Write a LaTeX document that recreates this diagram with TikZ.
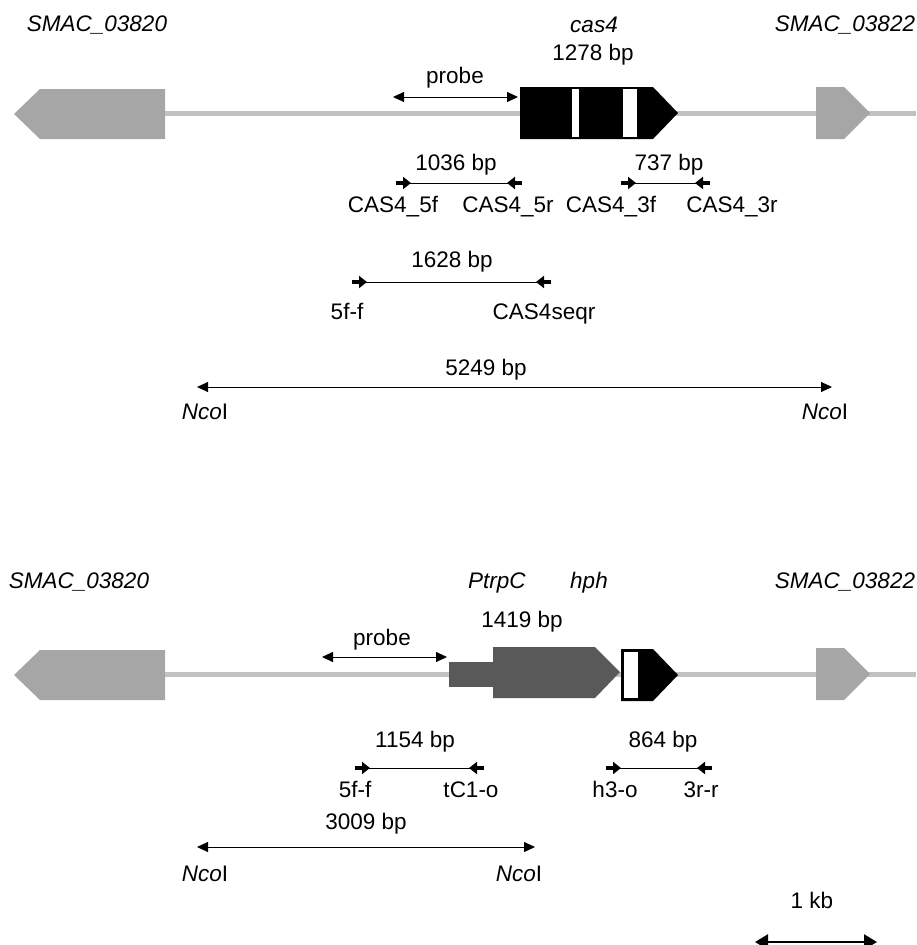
\documentclass[tikz,border=0pt]{standalone}
\usepackage{fontspec}
\setmainfont{Liberation Sans}
\usetikzlibrary{arrows.meta}
\definecolor{GeneGray}{RGB}{166,166,166}
\definecolor{LineGray}{RGB}{194,194,194}
\definecolor{HphGray}{RGB}{89,89,89}
\tikzset{
  txt/.style={font=\fontsize{22.5}{27}\selectfont,inner sep=0pt,anchor=base},
  gene/.style={fill=GeneGray},
  backbone/.style={draw=LineGray,line width=5pt},
  span/.style={draw=black,line width=0.9pt,
    {Triangle[length=11pt,width=10pt]}-{Triangle[length=11pt,width=10pt]}},
  amp/.style={draw=black,line width=0.9pt},
  primer/.style={draw=black,line width=4.5pt,-{Triangle[length=8pt,width=12pt]}},
  kbbar/.style={draw=black,line width=2.6pt,
    {Triangle[length=13pt,width=15pt]}-{Triangle[length=13pt,width=15pt]}},
}

\begin{document}
\begin{tikzpicture}[x=1pt,y=-1pt]
  \useasboundingbox (0,0) rectangle (916,945);

  % wild type locus
  \coordinate (bbA1) at (165,113.5);
  \coordinate (bbA2) at (916,113.5);
  \draw[backbone] (bbA1)--(bbA2);
  \fill[gene] (14,114)--(40,89)--(165,89)--(165,139)--(40,139)--cycle;
  \fill[gene] (816,87)--(844,87)--(870,113)--(844,139)--(816,139)--cycle;
  \fill[black] (520,87)--(653,87)--(678,113)--(653,139)--(520,139)--cycle;
  \fill[white] (572,89) rectangle (579,137);
  \fill[white] (623,89) rectangle (637,137);

  \node[txt] (smacA) at (97,31) {\textit{SMAC\_03820}};
  \node[txt] (casA) at (594,32) {\textit{cas4}};
  \node[txt] (lenA) at (593,60) {1278 bp};
  \node[txt] (smacB) at (845,31) {\textit{SMAC\_03822}};

  \coordinate (pL) at (393,97);
  \coordinate (pR) at (518,97);
  \draw[span] (pL)--(pR);
  \node[txt] (probeA) at (455,83) {probe};

  \coordinate (c5f) at (396,183);
  \coordinate (c5r) at (522,183);
  \coordinate (c3f) at (621,183);
  \coordinate (c3r) at (710,183);
  \draw[amp] (c5f)--(c5r);
  \draw[amp] (c3f)--(c3r);
  \draw[primer] (c5f)--++(15,0);
  \draw[primer] (c5r)--++(-15,0);
  \draw[primer] (c3f)--++(15,0);
  \draw[primer] (c3r)--++(-15,0);
  \node[txt] (l1036) at (456,170) {1036 bp};
  \node[txt] (l737) at (669,170) {737 bp};
  \node[txt] (n5f) at (393,212) {CAS4\_5f};
  \node[txt] (n5r) at (508,212) {CAS4\_5r};
  \node[txt] (n3f) at (611,212) {CAS4\_3f};
  \node[txt] (n3r) at (732,212) {CAS4\_3r};

  \coordinate (s5f) at (352,282);
  \coordinate (sseq) at (551,282);
  \draw[amp] (s5f)--(sseq);
  \draw[primer] (s5f)--++(15,0);
  \draw[primer] (sseq)--++(-15,0);
  \node[txt] (l1628) at (452,267) {1628 bp};
  \node[txt] (ns5f) at (347,319) {5f-f};
  \node[txt] (nseq) at (544,319) {CAS4seqr};

  \coordinate (ncoA1) at (197,387);
  \coordinate (ncoA2) at (832,387);
  \draw[span] (ncoA1)--(ncoA2);
  \node[txt] (l5249) at (486,375) {5249 bp};
  \node[txt] (ncA1) at (205,419) {\textit{Nco}I};
  \node[txt] (ncA2) at (825,419) {\textit{Nco}I};

  % deletion locus
  \coordinate (bbB1) at (165,674);
  \coordinate (bbB2) at (916,674);
  \draw[backbone] (bbB1)--(bbB2);
  \fill[gene] (14,675)--(40,650)--(165,650)--(165,700)--(40,700)--cycle;
  \fill[gene] (816,648)--(844,648)--(870,674)--(844,700)--(816,700)--cycle;
  \fill[HphGray] (449,662) rectangle (494,687);
  \fill[HphGray] (493,647)--(595,647)--(620,672)--(595,698)--(493,698)--cycle;
  \fill[black] (621,649)--(653,649)--(678,675)--(653,701)--(621,701)--cycle;
  \fill[white] (624,652) rectangle (638,698);

  \node[txt] (smacC) at (79,588) {\textit{SMAC\_03820}};
  \node[txt] (trpC) at (497,588) {\textit{PtrpC}};
  \node[txt] (hph) at (589,588) {\textit{hph}};
  \node[txt] (lenB) at (522,627) {1419 bp};
  \node[txt] (smacD) at (845,588) {\textit{SMAC\_03822}};

  \coordinate (qL) at (322,657);
  \coordinate (qR) at (447,657);
  \draw[span] (qL)--(qR);
  \node[txt] (probeB) at (382,645) {probe};

  \coordinate (b5f) at (355,768);
  \coordinate (btc) at (484,768);
  \coordinate (bh3) at (606,768);
  \coordinate (b3r) at (712,768);
  \draw[amp] (b5f)--(btc);
  \draw[amp] (bh3)--(b3r);
  \draw[primer] (b5f)--++(15,0);
  \draw[primer] (btc)--++(-15,0);
  \draw[primer] (bh3)--++(15,0);
  \draw[primer] (b3r)--++(-15,0);
  \node[txt] (l1154) at (415,747) {1154 bp};
  \node[txt] (l864) at (663,747) {864 bp};
  \node[txt] (nb5f) at (355,797) {5f-f};
  \node[txt] (ntc) at (471,797) {tC1-o};
  \node[txt] (nh3) at (615,797) {h3-o};
  \node[txt] (n3r) at (701,797) {3r-r};

  \coordinate (ncoB1) at (197,847);
  \coordinate (ncoB2) at (535,847);
  \draw[span] (ncoB1)--(ncoB2);
  \node[txt] (l3009) at (366,829) {3009 bp};
  \node[txt] (ncB1) at (205,881) {\textit{Nco}I};
  \node[txt] (ncB2) at (519,881) {\textit{Nco}I};

  \coordinate (kb1) at (755,942);
  \coordinate (kb2) at (877,942);
  \draw[kbbar] (kb1)--(kb2);
  \node[txt] (lkb) at (812,908) {1 kb};
\end{tikzpicture}
\end{document}
